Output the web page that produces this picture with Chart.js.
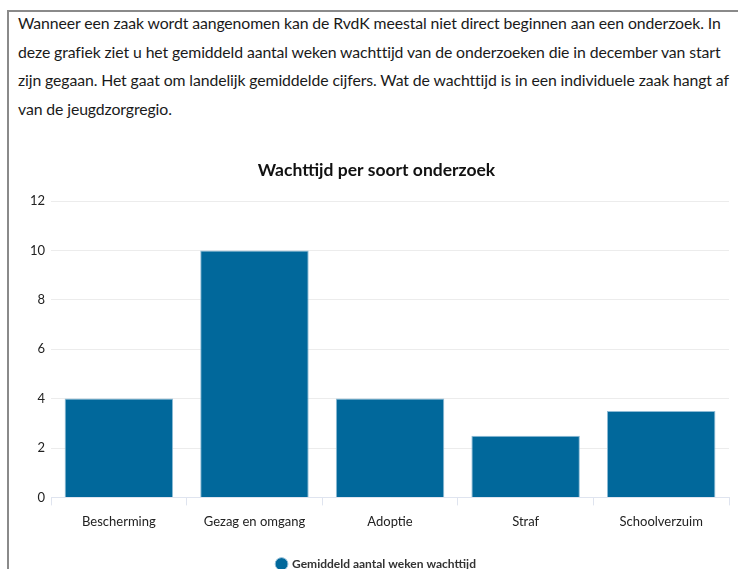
<!DOCTYPE html>
<html>
<head>
<meta charset="utf-8">
<script src="https://cdn.jsdelivr.net/npm/chart.js@4"></script>
<style>
  body { margin: 0; background: #fff; width: 738px; height: 569px; overflow: hidden; position: relative; }
  #frame { position: absolute; left: 7px; top: 10px; right: -2px; bottom: -2px; border-left: 2px solid #8a8a8a; border-top: 2px solid #8a8a8a; }
  #intro { position: absolute; left: 18px; top: 9px; font-family: Lato, sans-serif; font-size: 15.8px; letter-spacing: -0.1px; line-height: 28.5px; color: #1a1a1a; white-space: nowrap; }
  #wrap { position: absolute; left: 9px; top: 140px; width: 729px; height: 440px; }
</style>
</head>
<body>
<div id="frame"></div>
<div id="intro">Wanneer een zaak wordt aangenomen kan de RvdK meestal niet direct beginnen aan een onderzoek. In<br>deze grafiek ziet u het gemiddeld aantal weken wachttijd van de onderzoeken die in december van start<br>zijn gegaan. Het gaat om landelijk gemiddelde cijfers. Wat de wachttijd is in een individuele zaak hangt af<br>van de jeugdzorgregio.</div>
<div id="wrap"><canvas id="chart"></canvas></div>
<script>
// soorten onderzoek en gemiddelde wachttijd in weken (december)
var soorten = ["Bescherming", "Gezag en omgang", "Adoptie", "Straf", "Schoolverzuim"];
var wachttijd = [4, 10, 4, 2.5, 3.5];
var yTicks = [0, 2, 4, 6, 8, 10, 12];

var blauw = "#01689b";
var ctx = document.getElementById("chart").getContext("2d");

new Chart(ctx, {
	type: "bar",
	data: {
		labels: soorten,
		datasets: [{
			label: "Gemiddeld aantal weken wachttijd",
			data: wachttijd,
			backgroundColor: blauw,
			borderColor: "#8fbcd6",
			borderWidth: 1,
			borderSkipped: "bottom",
			categoryPercentage: 1,
			barPercentage: 0.8
		}]
	},
	options: {
		responsive: true,
		maintainAspectRatio: false,
		animation: false,
		layout: { padding: { left: 15, right: 9, top: 0, bottom: 0 } },
		plugins: {
			title: {
				display: true,
				text: "Wachttijd per soort onderzoek",
				color: "#111",
				font: { family: "Lato", size: 17.5, weight: "bold" },
				padding: { top: 20, bottom: 20 }
			},
			legend: {
				position: "bottom",
				labels: {
					usePointStyle: true,
					pointStyle: "circle",
					boxWidth: 9,
					boxHeight: 9,
					color: "#333",
					font: { family: "Lato", size: 12, weight: "bold" },
					padding: 19
				}
			},
			tooltip: { enabled: false }
		},
		scales: {
			x: {
				grid: { drawOnChartArea: false, drawTicks: true, tickLength: 8, color: "#dfe4ef" },
				border: { color: "#dfe4ef", width: 1 },
				ticks: { color: "#222", font: { family: "Lato", size: 13 }, padding: 9 }
			},
			y: {
				min: 0,
				max: 12,
				afterBuildTicks: function(axis) { axis.ticks = yTicks.map(v => ({ value: v })); },
				grid: { color: "#ececec", drawTicks: false },
				border: { display: false },
				ticks: { color: "#222", font: { family: "Lato", size: 13 }, padding: 6 }
			}
		}
	}
});
</script>
</body>
</html>
